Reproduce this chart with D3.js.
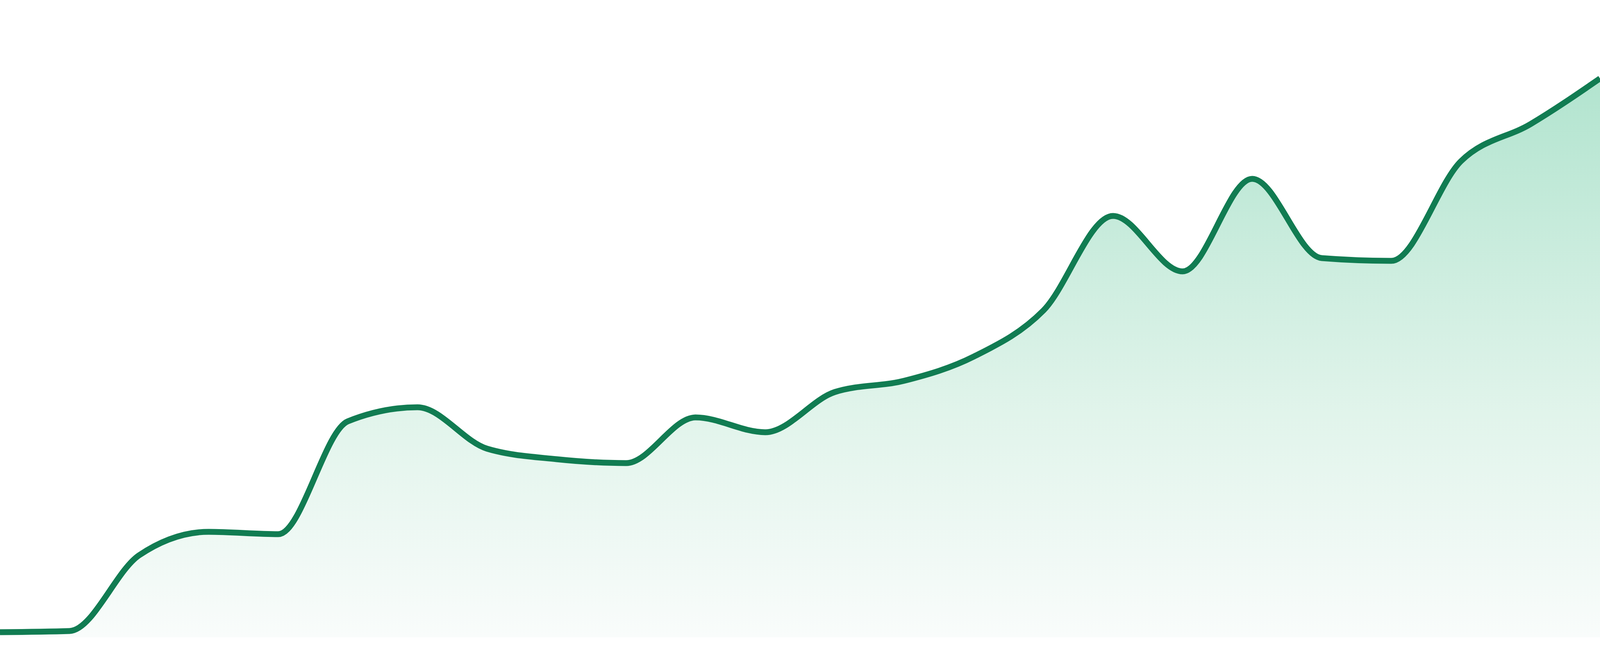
<!DOCTYPE html>
<html>
<head>
<meta charset="utf-8">
<script src="https://cdn.jsdelivr.net/npm/d3@7"></script>
<style>
  html, body { margin: 0; padding: 0; background: #fff; overflow: hidden; }
  svg { display: block; }
</style>
</head>
<body>
<script>
// one reading per step, left to right
var steps = d3.range(24);
var values = [1.3, 1.6, 21.0, 27.0, 26.4, 55.3, 58.9, 48.3, 45.6, 44.6, 56.3, 52.5,
              62.8, 65.7, 71.9, 83.7, 107.9, 93.7, 117.4, 97.1, 96.4, 121.9, 131.4, 143.1];

// fill the window, whatever its size
var w = window.innerWidth || 4800;
var h = window.innerHeight || 1680;
var plotH = h * 1632 / 1680;

var svg = d3.select("body").append("svg")
  .attr("width", w)
  .attr("height", h);

var x = d3.scaleLinear()
  .domain([0, steps.length - 1])
  .range([0, w]);

var y = d3.scaleLinear()
  .domain([0, 163.2])
  .range([plotH, 0]);

var grad = svg.append("defs").append("linearGradient")
  .attr("id", "fade")
  .attr("x1", 0).attr("y1", 0)
  .attr("x2", 0).attr("y2", 1);
grad.append("stop").attr("offset", "0%").attr("stop-color", "#b2e4cf");
grad.append("stop").attr("offset", "60%").attr("stop-color", "#e1f4eb");
grad.append("stop").attr("offset", "100%").attr("stop-color", "#f9fcfb");

var area = d3.area()
  .x(function(d, i) { return x(steps[i]); })
  .y0(plotH)
  .y1(function(d) { return y(d); })
  .curve(d3.curveMonotoneX);

var line = d3.line()
  .x(function(d, i) { return x(steps[i]); })
  .y(function(d) { return y(d); })
  .curve(d3.curveMonotoneX);

svg.append("path")
  .datum(values)
  .attr("d", area)
  .style("fill", "url(#fade)");

svg.append("path")
  .datum(values)
  .attr("d", line)
  .style("fill", "none")
  .style("stroke", "#117c52")
  .style("stroke-width", "15");
</script>
</body>
</html>
